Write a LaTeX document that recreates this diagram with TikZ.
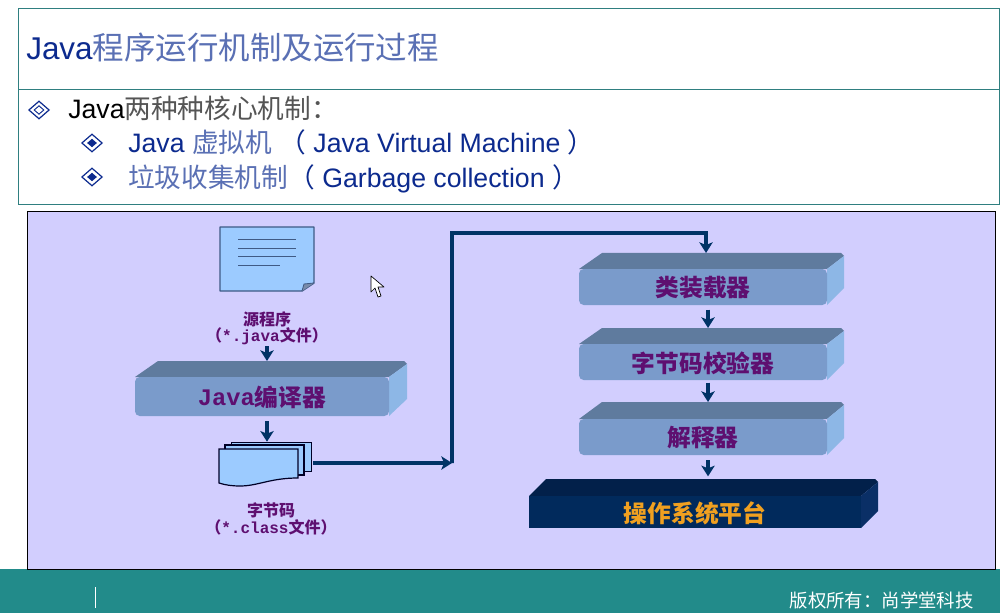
\documentclass[tikz,border=0pt]{standalone}
\usepackage{fontspec}
\setmainfont{Liberation Sans}
\setmonofont{Liberation Mono}
\newfontfamily\cjk{Noto Sans CJK SC}
\usetikzlibrary{arrows.meta,shapes.geometric}
\definecolor{frameteal}{HTML}{2F7F80}
\definecolor{barteal}{HTML}{228B8A}
\definecolor{panelfill}{HTML}{D2CEFE}
\definecolor{titlenavy}{HTML}{0C2A8E}
\definecolor{softnavy}{HTML}{5A70B4}
\definecolor{softgray}{HTML}{555555}
\definecolor{arrownavy}{HTML}{003366}
\definecolor{labelpurple}{HTML}{5E0F70}
\definecolor{docblue}{HTML}{9CCBFF}
\definecolor{docedge}{HTML}{3F5A85}
\definecolor{blocktopc}{HTML}{5F7B9E}
\definecolor{blocksidec}{HTML}{8DB7E6}
\definecolor{blockfrontc}{HTML}{7A9BCB}
\definecolor{ostop}{HTML}{02204A}
\definecolor{osside}{HTML}{0A2F66}
\definecolor{osfront}{HTML}{012A5C}
\definecolor{osorange}{HTML}{F0A020}
\newcommand{\cj}[1]{{\cjk #1}}
\newcommand{\blockdx}{23}
\newcommand{\blockthree}[8]{%
  % #1 name, #2 x left, #3 x front right, #4 x back right, #5 y back, #6 y front top, #7 y front bottom, #8 text
  \fill[blocktop] (#2,#6) -- (#2+\blockdx,#5) -- (#4-3,#5) -- (#4,#5+3) -- (#3,#6) -- cycle;
  \fill[blockside] (#3,#6) -- (#4,#5+3) -- (#4,#7-17) -- (#3,#7) -- cycle;
  \fill[blockfront] (#2,#6) rectangle (#3,#7);
  \node[blockbox,minimum width={(#4-#2)*0.75pt},minimum height={(#7-#5)*0.75pt}] (#1) at ({(#2+#4)/2},{(#5+#7)/2}) {};
  \node[blocktext] (#1t) at ({(#2+#3)/2},{(#6+#7)/2+1}) {#8};
}
\tikzset{
  x=0.75pt,y=-0.75pt,
  blocktop/.style={fill=blocktopc},
  blockside/.style={fill=blocksidec},
  blockfront/.style={fill=blockfrontc,rounded corners=3.5pt},
  blockbox/.style={inner sep=0pt,outer sep=0pt},
  blocktext/.style={inner sep=0pt,text=labelpurple,font=\fontsize{17.8pt}{20pt}\selectfont\cjk\bfseries},
  flow/.style={draw=arrownavy,line width=2.8pt,-{Stealth[length=8pt,width=10pt,inset=2pt]}},
  bigflow/.style={draw=arrownavy,line width=2.9pt},
  caption/.style={inner sep=0pt,align=center,text=labelpurple,font=\fontsize{12pt}{13.2pt}\selectfont\cjk\bfseries},
  sheet/.style={draw=black!85!blue,fill=docblue,line width=0.8pt},
  bullet/.style={diamond,draw=titlenavy,fill=white,line width=0.9pt,inner sep=0pt,minimum width=15.5pt,minimum height=13.5pt},
  bulletcore/.style={diamond,fill=titlenavy,inner sep=0pt,minimum width=7.5pt,minimum height=6.5pt},
  bulletring/.style={diamond,draw=titlenavy,fill=white,line width=0.7pt,inner sep=0pt,minimum width=7.5pt,minimum height=6.5pt},
  titletext/.style={anchor=base west,inner sep=0pt,text=titlenavy,font=\fontsize{23.6pt}{28pt}\selectfont},
  bodytext/.style={anchor=base west,inner sep=0pt,font=\fontsize{20pt}{24pt}\selectfont}
}
\begin{document}
\begin{tikzpicture}
\useasboundingbox (0,0) rectangle (1000,613);
\fill[white] (0,0) rectangle (1000,613);
% header frames
\draw[frameteal,line width=0.6pt] (18,8) rectangle (999,204);
\draw[frameteal,line width=0.6pt] (18,89) -- (999,89);
\node[titletext] (title) at (26,60) {Java{\color{softnavy}\cj{程序运行机制及运行过程}}};
\node[bullet] (b1) at (39,110) {};
\node[bulletring] (b1c) at (39,110) {};
\node[bodytext] (t1) at (68,119) {Java{\color{softgray}\cj{两种种核心机制：}}};
\node[bullet] (b2) at (92,143) {};
\node[bulletcore] (b2c) at (92,143) {};
\node[bodytext,text=titlenavy] (t2) at (128,153) {Java {\color{softnavy}\cj{虚拟机}} \cj{（} Java Virtual Machine \cj{）}};
\node[bullet] (b3) at (92,177) {};
\node[bulletcore] (b3c) at (92,177) {};
\node[bodytext,text=titlenavy] (t3) at (128,188) {{\color{softnavy}\cj{垃圾收集机制}}\cj{（} Garbage collection \cj{）}};
% footer
\fill[barteal] (0,569) rectangle (1000,613);
\draw[white,line width=0.6pt] (95,587) -- (95,608);
\node[inner sep=0pt,text=white,anchor=east,font=\fontsize{13.8pt}{16pt}\selectfont\cjk] (foot) at (974,600) {版权所有：尚学堂科技};
% panel
\draw[black,fill=panelfill,line width=0.6pt] (27,211) rectangle (995,569);
% source document
\node[inner sep=0pt,minimum width={94*0.75pt},minimum height={64*0.75pt}] (src) at (267,259) {};
\draw[docedge,fill=docblue,line width=1.1pt,line join=round] (220,227) -- (314,227) -- (314,283) -- (302,291) -- (220,291) -- cycle;
\fill[docedge!70] (302,291) -- (304,284) -- (314,283) -- cycle;
\draw[docedge,line width=0.6pt] (302,291) -- (304,284) -- (314,283);
\draw[docedge,line width=0.7pt] (238,239) -- (296,239) (238,248) -- (296,248) (238,256) -- (296,256) (238,265) -- (280,265);
\node[caption] (srccap) at (267,328) {源程序\\[-1pt]（{\ttfamily\bfseries *.java}文件）};
% compiler
\blockthree{comp}{135}{389}{407}{361}{377}{416}{\raisebox{0.8pt}{\ttfamily\bfseries Java}编译器}
% class stack
\draw[sheet,line width=0.7pt] (231,442) rectangle (311,471);
\draw[sheet] (225,445) rectangle (304,475);
\draw[sheet,line width=0.9pt] (219,449) -- (298,449) -- (298,478) .. controls (270,478) and (258,486) .. (240,486) .. controls (232,486) and (225,485) .. (219,483) -- cycle;
\node[inner sep=0pt,minimum width={92*0.75pt},minimum height={44*0.75pt}] (cls) at (265,464) {};
\node[caption] (clscap) at (271,519) {字节码\\[-1pt]（{\ttfamily\bfseries *.class}文件）};
% right stack
\blockthree{load}{579}{827}{844}{253}{269}{305}{\raisebox{-2.5pt}{类装载器}}
\blockthree{verify}{579}{827}{844}{328}{344}{380}{字节码校验器}
\blockthree{interp}{579}{827}{844}{402}{419}{455}{解释器}
\begin{scope}[blocktop/.style={fill=ostop},blockside/.style={fill=osside},blockfront/.style={fill=osfront},blocktext/.style={inner sep=0pt,text=osorange,font=\fontsize{17.8pt}{20pt}\selectfont\cjk\bfseries}]
\renewcommand{\blockdx}{17}
\blockthree{os}{529}{861}{878}{479}{496}{528}{\raisebox{-1.5pt}{操作系统平台}}
\end{scope}
% connectors
\draw[flow,shorten <=1pt] (srccap.south -| src.south) -- (comp.north -| src.south);
\draw[flow,shorten <=4pt,shorten >=0pt] (comp.south -| src.south) -- (cls.north -| src.south);
\coordinate (bend) at (452,463);
\draw[bigflow,-{Stealth[length=8pt,width=10pt,inset=2pt]}] (cls.east) ++(2,-1) -- (bend);
\draw[bigflow,line join=miter,-{Stealth[length=8pt,width=10pt,inset=2pt]}] (bend) -- (452,233) -- (706,233) -- ([xshift=-4.1pt]load.north);
\draw[flow,shorten <=3.5pt] ([xshift=-2.6pt]load.south) -- ([xshift=-2.6pt]verify.north);
\draw[flow,shorten <=2pt] ([xshift=-2.6pt]verify.south) -- ([xshift=-2.6pt]interp.north);
\draw[flow,shorten <=4pt,shorten >=2pt] ([xshift=-2.6pt]interp.south) -- ([xshift=3.4pt]os.north);
% pointer
\draw[black,fill=white,line width=0.5pt,line join=round] (371,276) -- (371,292) -- (375,288) -- (378,297) -- (381,296) -- (378,287) -- (384,287) -- cycle;
\end{tikzpicture}
\end{document}
